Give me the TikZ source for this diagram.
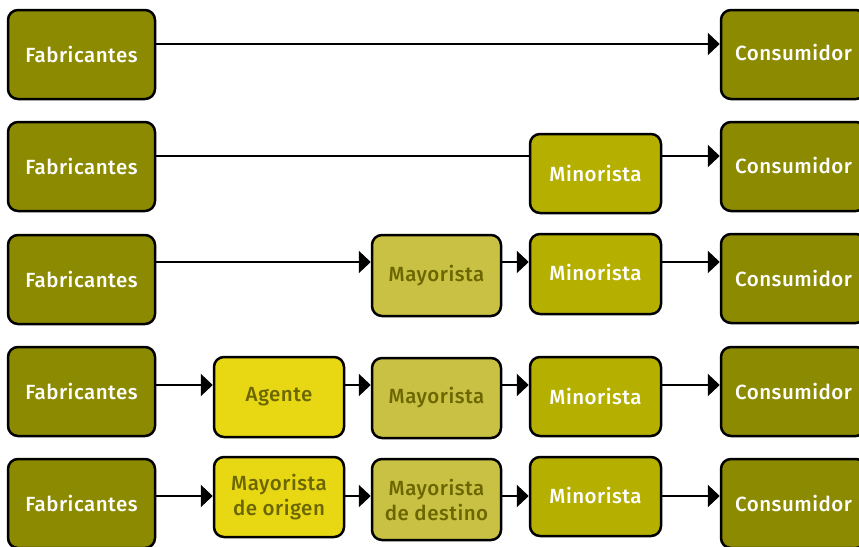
\documentclass[tikz,border=0pt]{standalone}
\usepackage{fontspec}
\setmainfont{Fira Sans}[UprightFont={* Medium}, LetterSpace=2.5]
\usetikzlibrary{arrows.meta}
\definecolor{cfab}{HTML}{8C8A00}
\definecolor{cmin}{HTML}{B5AF00}
\definecolor{cmay}{HTML}{C9C144}
\definecolor{cage}{HTML}{E8D814}
\definecolor{ctxt}{HTML}{6B6600}
\tikzset{
  box/.style={draw=black, line width=2.5pt, rounded corners=10pt, inner sep=0pt, align=center, font=\fontsize{20.5}{25}\selectfont},
  fab/.style={box, fill=cfab, text=white},
  mino/.style={box, fill=cmin, text=white},
  mayo/.style={box, fill=cmay, text=ctxt},
  agen/.style={box, fill=cage, text=ctxt},
  conn/.style={line width=2.5pt},
  arr/.style={conn, -{Triangle[length=12pt, width=22pt]}},
}
\newcommand{\bx}[7]{% name style x1 y1 x2 y2 text
  \node[#2, minimum width={#5-#3}, minimum height={#6-#4}] (#1) at ({(#3+#5)/2},{(#4+#6)/2}) {#7};}
\begin{document}
\begin{tikzpicture}[x=1pt, y=-1pt]
\useasboundingbox (0,0) rectangle (859,546);
% row 1
\bx{f1}{fab}{8}{10}{155}{99}{Fabricantes}
\bx{c1}{fab}{721}{10}{866}{99}{\raisebox{4pt}{Consumidor}}
\draw[arr] (f1.east |- 0,44) -- (c1.west |- 0,44);
% row 2
\bx{f2}{fab}{8}{122}{155}{211}{Fabricantes}
\bx{m2}{mino}{530}{134}{661}{213}{Minorista}
\bx{c2}{fab}{721}{122}{866}{211}{\raisebox{3pt}{Consumidor}}
\draw[conn] (f2.east |- 0,156) -- (m2.west |- 0,156);
\draw[arr] (m2.east |- 0,156) -- (c2.west |- 0,156);
% row 3
\bx{f3}{fab}{8}{235}{155}{324}{Fabricantes}
\bx{y3}{mayo}{372}{235}{501}{316}{Mayorista}
\bx{m3}{mino}{530}{234}{661}{314}{\raisebox{4pt}{Minorista}}
\bx{c3}{fab}{721}{234}{866}{323}{Consumidor}
\draw[arr] (f3.east |- 0,262) -- (y3.west |- 0,262);
\draw[arr] (y3.east |- 0,262) -- (m3.west |- 0,262);
\draw[arr] (m3.east |- 0,262) -- (c3.west |- 0,262);
% row 4
\bx{f4}{fab}{8}{347}{155}{436}{Fabricantes}
\bx{a4}{agen}{214}{357}{344}{437}{Agente}
\bx{y4}{mayo}{372}{358}{501}{438}{Mayorista}
\bx{m4}{mino}{530}{357}{661}{436}{Minorista}
\bx{c4}{fab}{721}{347}{866}{436}{Consumidor}
\draw[arr] (f4.east |- 0,385) -- (a4.west |- 0,385);
\draw[arr] (a4.east |- 0,385) -- (y4.west |- 0,385);
\draw[arr] (y4.east |- 0,385) -- (m4.west |- 0,385);
\draw[arr] (m4.east |- 0,385) -- (c4.west |- 0,385);
% row 5
\bx{f5}{fab}{8}{459}{155}{548}{Fabricantes}
\bx{a5}{agen}{214}{457}{344}{537}{Mayorista\\de origen}
\bx{y5}{mayo}{372}{459}{501}{540}{Mayorista\\de destino}
\bx{m5}{mino}{530}{457}{661}{536}{\raisebox{2pt}{Minorista}}
\bx{c5}{fab}{721}{459}{866}{548}{Consumidor}
\draw[arr] (f5.east |- 0,496) -- (a5.west |- 0,496);
\draw[arr] (a5.east |- 0,496) -- (y5.west |- 0,496);
\draw[arr] (y5.east |- 0,496) -- (m5.west |- 0,496);
\draw[arr] (m5.east |- 0,496) -- (c5.west |- 0,496);
\end{tikzpicture}
\end{document}
